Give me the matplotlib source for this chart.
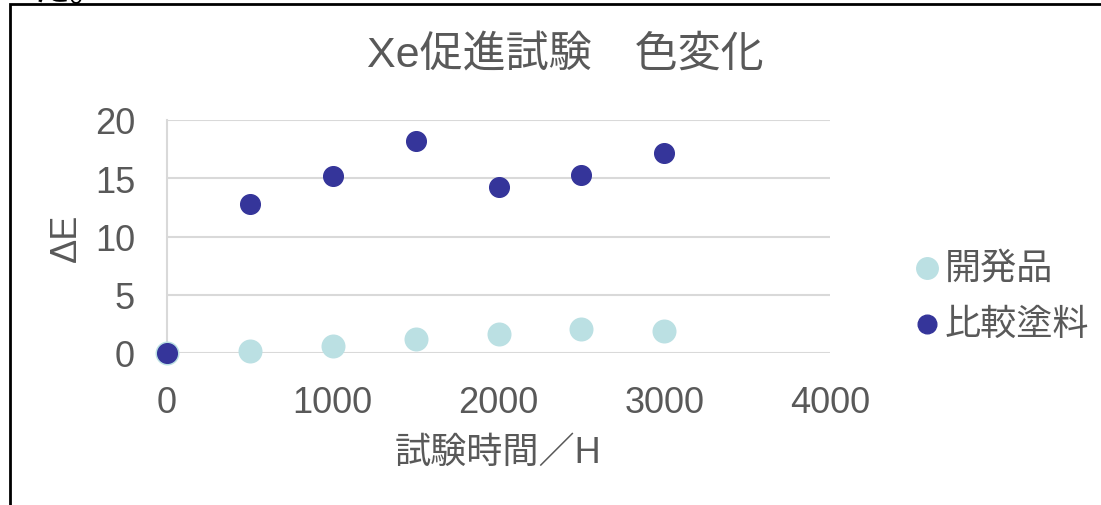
import matplotlib.pyplot as plt
from matplotlib.patches import Rectangle

plt.rcParams['font.family'] = ['Liberation Sans', 'Noto Sans CJK JP', 'DejaVu Sans']

hours = [0, 500, 1000, 1500, 2000, 2500, 3000]
dev_product = [0, 0.2, 0.57, 1.2, 1.6, 2.06, 1.86]
comparison = [0, 12.8, 15.16, 18.23, 14.28, 15.31, 17.17]

title = 'Xe促進試験\u3000色変化'
xlabel = '試験時間／H'
ylabel = 'ΔE'
labels = ['開発品', '比較塗料']

gray = '#595959'
grid_c = '#D9D9D9'

fig = plt.figure(figsize=(11.01, 5.06), dpi=100)
ax = fig.add_axes([167 / 1101, 1 - 354 / 506, (830 - 167) / 1101, (354 - 121) / 506])

ax.scatter(hours, dev_product, s=265, color='#BBE0E3', label=labels[0], zorder=3, clip_on=False)
ax.scatter(hours, comparison, s=200, color='#35359A', label=labels[1], zorder=4, clip_on=False)

ax.set_xlim(0, 4000)
ax.set_ylim(0, 20)
ax.set_xticks([0, 1000, 2000, 3000, 4000])
ax.set_yticks([0, 5, 10, 15, 20])
ax.grid(axis='y', color=grid_c, linewidth=1.5)
ax.set_axisbelow(True)
for s in ['top', 'right', 'bottom']:
    ax.spines[s].set_visible(False)
ax.spines['left'].set_color(grid_c)
ax.spines['left'].set_linewidth(1.5)
ax.tick_params(length=0, labelsize=26, labelcolor=gray, pad=23)

ax.set_xlabel(xlabel, fontsize=26, color=gray, labelpad=11)
ax.set_ylabel(ylabel, fontsize=26, color=gray, labelpad=8)
fig.text(565 / 1101, 1 - 57 / 506, title, fontsize=31, color=gray, ha='center', va='center')

leg = fig.legend(loc='center left', bbox_to_anchor=(916 / 1101, 1 - 297 / 506), frameon=False,
                 fontsize=26, handlelength=0.6, handletextpad=0.2, labelspacing=0.6,
                 borderpad=0, borderaxespad=0, markerscale=0.95)
for t in leg.get_texts():
    t.set_color(gray)

# outer frame of the pasted chart
fig.patches.append(Rectangle((9.5 / 1101, -0.1), 1.2, 1.1 - 4.5 / 506, transform=fig.transFigure,
                             fill=False, edgecolor='black', linewidth=2))
fig.text(33 / 1101, 1 + 9 / 506, 'た。', fontsize=26, color='black', ha='left', va='center')

fig.savefig('out.png', dpi=100)
